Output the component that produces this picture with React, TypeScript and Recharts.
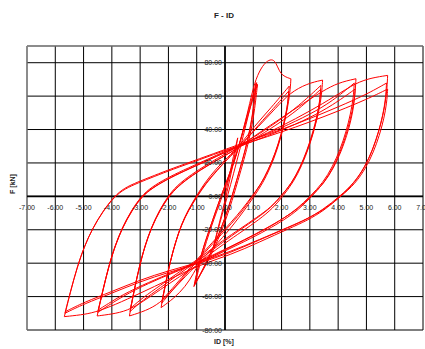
import React from "react";
import { LineChart, Line, XAxis, YAxis, CartesianGrid, ReferenceLine } from "recharts";

type Pt = [number, number];

const X_TICKS = [-7, -6, -5, -4, -3, -2, -1, 0, 1, 2, 3, 4, 5, 6, 7];
const Y_TICKS = [-80, -60, -40, -20, 0, 20, 40, 60, 80];
const X_DOMAIN: [number, number] = [-7, 7];
const Y_DOMAIN: [number, number] = [-80, 90];

const c01Up: Pt[] = [[0,0],[0.12,10],[0.25,20],[0.35,28],[0.45,35]];
const c01Down: Pt[] = [[0.45,35],[0.35,25],[0.22,14],[0.08,3],[-0.08,-8],[-0.25,-19],[-0.4,-30]];
const c02Up: Pt[] = [[-0.4,-30],[-0.2,-17],[0,-5],[0.2,7],[0.4,20],[0.6,33],[0.8,47],[0.95,57],[1.1,68]];
const c02Down: Pt[] = [[1.1,68],[1.0,52],[0.88,40],[0.72,28],[0.52,16],[0.3,3],[0.1,-8],[-0.15,-20],[-0.45,-32],[-0.75,-43],[-1.1,-54]];
const c03Up: Pt[] = [[-1.1,-54],[-0.94,-41],[-0.74,-29],[-0.47,-16],[-0.17,-1],[0.13,12],[0.38,24],[0.6,37],[0.82,51],[1.12,68]];
const c03Down: Pt[] = [[1.12,68],[1.02,53],[0.9,41],[0.74,29],[0.54,17],[0.32,4],[0.12,-7],[-0.13,-19],[-0.43,-31],[-0.73,-42],[-1.08,-53]];
const c04Up: Pt[] = [[-1.08,-53],[-0.92,-40],[-0.72,-28],[-0.45,-15],[-0.15,0],[0.15,13],[0.4,25],[0.63,38],[0.85,51],[1.15,67]];
const c04Down: Pt[] = [[1.15,67],[1.05,52],[0.93,40],[0.77,28],[0.57,16],[0.35,3],[0.15,-8],[-0.1,-20],[-0.4,-32],[-0.7,-42],[-1.05,-52]];
const c05Up: Pt[] = [[-1.05,-52],[-0.88,-40],[-0.66,-27],[-0.4,-14],[-0.1,0],[0.2,14],[0.45,27],[0.68,42],[0.88,56],[1.04,68],[1.27,77],[1.51,81.5],[1.69,82],[1.8,80],[1.92,75],[2.04,72.4],[2.21,71],[2.33,70.4]];
const c05Down: Pt[] = [[2.33,70.4],[2.3,62],[2.2,52],[2.05,40],[1.85,28],[1.6,17],[1.34,8],[1.03,0],[0.7,-8],[0.3,-17],[-0.2,-27],[-0.9,-39],[-1.1,-46],[-1.4,-54],[-1.8,-61],[-2.26,-66.6]];
const c06Up: Pt[] = [[-2.26,-66.6],[-2.11,-53.3],[-1.95,-40],[-1.76,-28],[-1.57,-18],[-1.32,-8.7],[-1.02,0],[-0.72,8],[-0.32,16.5],[0.1,23.5],[0.5,30],[1.04,42],[1.63,53],[2.27,66]];
const c06Down: Pt[] = [[2.27,66],[2.24,58],[2.14,48],[1.98,37],[1.78,26],[1.54,16],[1.28,7.5],[0.97,0],[0.65,-8],[0.25,-16],[-0.25,-25],[-0.9,-37],[-1.3,-45],[-1.75,-54],[-2.24,-64]];
const c07Up: Pt[] = [[-2.24,-64],[-2.09,-51.2],[-1.93,-38.4],[-1.74,-26.9],[-1.55,-17.3],[-1.3,-8.3],[-1.0,0],[-0.7,7.5],[-0.3,15.5],[0.1,22.5],[0.5,29],[1.04,40],[1.63,51],[2.25,63]];
const c07Down: Pt[] = [[2.25,63],[2.22,55],[2.12,45.5],[1.96,35],[1.76,25],[1.52,15.5],[1.26,7],[0.95,0],[0.62,-7.5],[0.22,-15.5],[-0.28,-24.5],[-0.9,-36],[-1.3,-44],[-1.75,-53],[-2.22,-62]];
const c08Up: Pt[] = [[-2.22,-62],[-2.07,-49.6],[-1.91,-37.2],[-1.72,-26],[-1.53,-16.7],[-1.28,-8.1],[-0.98,0],[-0.68,7.5],[-0.28,15.5],[0.1,22.5],[0.5,30],[1.2,42],[1.8,53],[2.3,62],[2.9,67.5],[3.45,69.6]];
const c08Down: Pt[] = [[3.45,69.6],[3.42,61],[3.32,51],[3.16,40],[2.96,29],[2.72,18.5],[2.42,8.5],[2.04,0],[1.7,-7],[1.2,-14],[0.6,-21],[0,-28],[-0.9,-39],[-1.4,-48],[-1.85,-56],[-2.3,-64],[-2.8,-68.5],[-3.38,-71.6]];
const c09Up: Pt[] = [[-3.38,-71.6],[-3.22,-57.3],[-3.04,-43],[-2.84,-30.1],[-2.62,-19.3],[-2.35,-9.3],[-2.02,0],[-1.7,6.5],[-1.2,13],[-0.6,19.5],[0.07,26],[0.45,30],[1,35],[1.8,44],[2.6,54],[3.39,66.4]];
const c09Down: Pt[] = [[3.39,66.4],[3.36,58],[3.26,48.5],[3.1,38],[2.9,27.5],[2.66,17.5],[2.36,8],[1.98,0],[1.64,-6.5],[1.14,-13],[0.54,-20],[-0.05,-27],[-0.9,-38],[-1.6,-46],[-2.3,-55],[-2.9,-62],[-3.36,-69]];
const c10Up: Pt[] = [[-3.36,-69],[-3.2,-55.2],[-3.02,-41.4],[-2.82,-29],[-2.6,-18.6],[-2.33,-9],[-2.0,0],[-1.68,6],[-1.18,12.5],[-0.58,19],[0.07,25],[0.45,29],[1,34],[1.8,42.5],[2.6,52],[3.38,64]];
const c10Down: Pt[] = [[3.38,64],[3.35,56],[3.25,46.5],[3.09,36.5],[2.89,26.5],[2.65,17],[2.35,7.5],[1.97,0],[1.63,-6.5],[1.13,-12.5],[0.53,-19.5],[-0.05,-26],[-0.9,-37],[-1.6,-45],[-2.3,-53.5],[-2.9,-60.5],[-3.34,-67]];
const c11Up: Pt[] = [[-3.34,-67],[-3.18,-53.6],[-3.0,-40.2],[-2.8,-28.1],[-2.58,-18.1],[-2.31,-8.7],[-1.98,0],[-1.66,6],[-1.16,12.5],[-0.56,19],[0.07,25],[0.45,29],[1.2,38],[2.0,47],[2.8,56],[3.45,63],[4.0,68],[4.63,70.4]];
const c11Down: Pt[] = [[4.63,70.4],[4.6,61],[4.5,51],[4.34,40],[4.13,29],[3.87,18.5],[3.52,8.5],[3.07,0],[2.6,-8],[2.1,-14],[1.5,-20],[0.7,-27],[-0.1,-33.5],[-0.9,-40],[-1.6,-48],[-2.3,-56],[-2.9,-63],[-3.45,-68.5],[-4.0,-70.5],[-4.52,-71.6]];
const c12Up: Pt[] = [[-4.52,-71.6],[-4.33,-57.3],[-4.13,-43],[-3.9,-30.1],[-3.65,-19.3],[-3.34,-9.3],[-2.97,0],[-2.6,5.5],[-2.1,10.5],[-1.5,15.5],[-0.7,21.5],[0.07,27.5],[1,34],[2,41],[3,49],[3.8,57],[4.57,67.8]];
const c12Down: Pt[] = [[4.57,67.8],[4.54,59],[4.44,49.5],[4.28,38.5],[4.07,28],[3.81,18],[3.46,8],[3.01,0],[2.55,-7.5],[2.05,-13.5],[1.45,-19.5],[0.65,-26.5],[-0.1,-33],[-0.9,-39.5],[-1.8,-45.5],[-2.7,-52],[-3.6,-59.5],[-4.5,-69.5]];
const c13Up: Pt[] = [[-4.5,-69.5],[-4.31,-55.6],[-4.11,-41.7],[-3.88,-29.2],[-3.63,-18.8],[-3.32,-9],[-2.95,0],[-2.58,5],[-2.08,10],[-1.48,15],[-0.68,21],[0.07,27],[1,33],[2,39.5],[3,47],[3.8,54.5],[4.6,64.2]];
const c13Down: Pt[] = [[4.6,64.2],[4.57,56],[4.47,46.5],[4.31,36.5],[4.1,26.5],[3.84,17],[3.49,7.5],[3.04,0],[2.58,-7.5],[2.08,-13],[1.48,-19],[0.68,-26],[-0.1,-32.5],[-0.9,-39],[-1.8,-45],[-2.7,-51.5],[-3.6,-58.5],[-4.48,-68]];
const c14Up: Pt[] = [[-4.48,-68],[-4.29,-54.4],[-4.09,-40.8],[-3.86,-28.6],[-3.61,-18.4],[-3.3,-8.8],[-2.93,0],[-2.56,5],[-2.06,10],[-1.46,15],[-0.66,21],[0.07,27],[1,34],[2,42],[3,51],[3.9,60],[4.63,68],[5.2,71],[5.75,72.4]];
const c14Down: Pt[] = [[5.75,72.4],[5.72,62],[5.62,51],[5.46,40],[5.25,29],[4.98,18.5],[4.6,8.5],[4.1,0],[3.5,-8.5],[2.9,-14.5],[2.3,-19],[1.2,-27.5],[0.2,-35],[-0.9,-41],[-2,-50],[-3,-58],[-3.9,-65],[-4.6,-69.5],[-5.1,-71],[-5.68,-72]];
const c15Up: Pt[] = [[-5.68,-72],[-5.47,-57.6],[-5.24,-43.2],[-4.98,-30.2],[-4.69,-19.4],[-4.34,-9.4],[-3.92,0],[-3.56,5],[-3.1,8.5],[-2.5,12.5],[-1.9,16.5],[-0.9,22.5],[0.07,28.5],[1,34],[2,40],[3,46.5],[4,53.5],[5,61],[5.71,67.8]];
const c15Down: Pt[] = [[5.71,67.8],[5.68,58.5],[5.58,48.5],[5.42,38],[5.21,27.5],[4.94,17.5],[4.56,8],[4.06,0],[3.46,-8],[2.86,-14],[2.26,-18.5],[1.16,-26.5],[0.16,-34],[-0.9,-40],[-2,-45.5],[-3,-51],[-4,-58],[-5,-64.5],[-5.66,-70]];
const c16Up: Pt[] = [[-5.66,-70],[-5.45,-56],[-5.22,-42],[-4.96,-29.4],[-4.67,-18.9],[-4.32,-9.1],[-3.9,0],[-3.54,4.5],[-3.08,8],[-2.48,12],[-1.88,16],[-0.88,22],[0.07,28],[1,33],[2,38.5],[3,44.5],[4,51],[5,58],[5.75,64.2]];
const c16Down: Pt[] = [[5.75,64.2],[5.72,56],[5.62,46.5],[5.46,36.5],[5.25,26.5],[4.98,17],[4.6,7.5],[4.1,0],[3.5,-8],[2.9,-13.5],[2.3,-18],[1.2,-26],[0.2,-33],[-0.9,-39.5],[-2,-44.5],[-3,-50],[-4,-57],[-5,-63.5],[-5.64,-69]];

const BRANCHES: Pt[][] = [
  c01Up, c01Down, c02Up, c02Down, c03Up, c03Down, c04Up, c04Down,
  c05Up, c05Down, c06Up, c06Down, c07Up, c07Down, c08Up, c08Down,
  c09Up, c09Down, c10Up, c10Down, c11Up, c11Down, c12Up, c12Down,
  c13Up, c13Down, c14Up, c14Down, c15Up, c15Down, c16Up, c16Down,
];

const W = 425;
const H = 349;
const M = { top: 46, right: 2, bottom: 0, left: 0 };
const X_AXIS_H = 19;
const Y_AXIS_W = 27;
const PLOT_L = M.left + Y_AXIS_W;
const PLOT_W = W - PLOT_L - M.right;
const PLOT_H = H - M.top - M.bottom - X_AXIS_H;
const X0 = PLOT_L + (PLOT_W * (0 - X_DOMAIN[0])) / (X_DOMAIN[1] - X_DOMAIN[0]);
const Y0 = M.top + (PLOT_H * (Y_DOMAIN[1] - 0)) / (Y_DOMAIN[1] - Y_DOMAIN[0]);

const FONT = "'Liberation Sans', Arial, sans-serif";

const renderXTick = (props: any) => {
  const { x, payload } = props;
  return (
    <text x={x} y={Y0 + 14} textAnchor="middle" fontSize={7} fontFamily={FONT} fill="#222">
      {Number(payload.value).toFixed(2)}
    </text>
  );
};

const renderYTick = (props: any) => {
  const { y, payload } = props;
  return (
    <text x={X0 - 3} y={y + 2.5} textAnchor="end" fontSize={7} fontFamily={FONT} fill="#222">
      {Number(payload.value).toFixed(2)}
    </text>
  );
};

export default function App() {
  return (
    <div style={{ position: "absolute", left: 0, top: 0, width: W, height: H, background: "#fff" }}>
      <LineChart width={W} height={H} margin={M}>
        <CartesianGrid stroke="#000" strokeWidth={1} />
        <XAxis
          type="number"
          dataKey="x"
          domain={X_DOMAIN}
          ticks={X_TICKS}
          interval={0}
          allowDataOverflow
          height={X_AXIS_H}
          axisLine={false}
          tickLine={false}
          tick={renderXTick}
        />
        <YAxis
          type="number"
          dataKey="y"
          domain={Y_DOMAIN}
          ticks={Y_TICKS}
          interval={0}
          allowDataOverflow
          width={Y_AXIS_W}
          axisLine={false}
          tickLine={false}
          tick={renderYTick}
        />
        <ReferenceLine y={90} stroke="#999" strokeWidth={1} />
        <ReferenceLine x={-7} stroke="#999" strokeWidth={1} />
        <ReferenceLine y={0} stroke="#000" strokeWidth={1.6} />
        <ReferenceLine x={0} stroke="#000" strokeWidth={1.6} />
        {BRANCHES.map((pts, i) => (
          <Line
            key={i}
            data={pts.map(([x, y]) => ({ x, y }))}
            dataKey="y"
            type="basis"
            stroke="#ff0000"
            strokeWidth={1}
            dot={false}
            activeDot={false}
            isAnimationActive={false}
          />
        ))}
      </LineChart>
      <div style={{ position: "absolute", left: 0, top: 11, width: 448, textAlign: "center", fontFamily: FONT, fontWeight: "bold", fontSize: 8, color: "#222" }}>
        F - ID
      </div>
      <div style={{ position: "absolute", left: 0, top: 338, width: 448, textAlign: "center", fontFamily: FONT, fontWeight: "bold", fontSize: 7, color: "#222" }}>
        ID [%]
      </div>
      <div style={{ position: "absolute", left: 12, top: 184, width: 0, height: 0 }}>
        <div style={{ position: "absolute", transform: "translate(-50%, -50%) rotate(-90deg)", whiteSpace: "nowrap", fontFamily: FONT, fontWeight: "bold", fontSize: 7, color: "#222" }}>
          F [kN]
        </div>
      </div>
    </div>
  );
}
